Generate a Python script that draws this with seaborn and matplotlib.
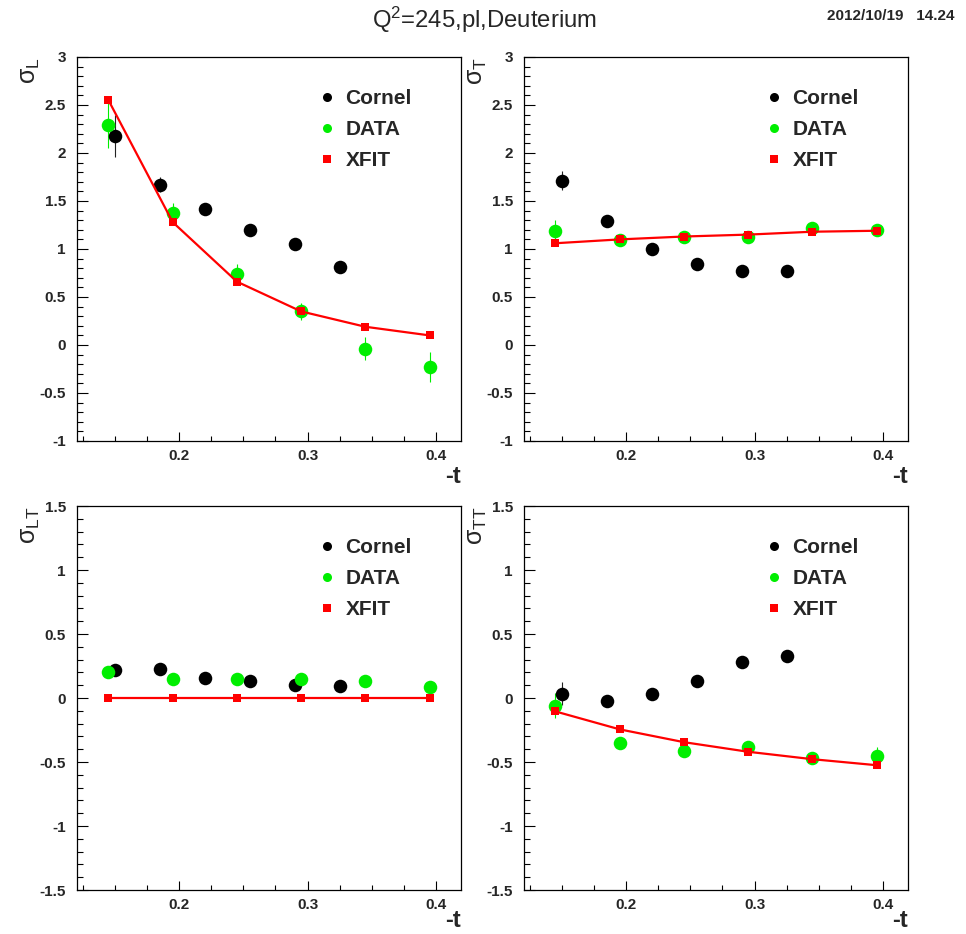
import numpy as np
import pandas as pd
import matplotlib
matplotlib.use("Agg")
import matplotlib.pyplot as plt
import seaborn as sns
from matplotlib.ticker import MultipleLocator, FuncFormatter
from matplotlib.lines import Line2D

# ---------------- data ----------------
cornel_t = [0.15, 0.185, 0.22, 0.255, 0.29, 0.325]
data_t = [0.145, 0.195, 0.245, 0.295, 0.345, 0.395]

cornel_L = [2.18, 1.67, 1.42, 1.20, 1.05, 0.81]
cornel_L_err = [0.22, 0.08, 0.04, 0.04, 0.04, 0.04]
data_L = [2.29, 1.38, 0.74, 0.35, -0.04, -0.23]
data_L_err = [0.24, 0.10, 0.10, 0.09, 0.12, 0.16]
xfit_L = [2.55, 1.28, 0.66, 0.35, 0.19, 0.10]

cornel_T = [1.71, 1.29, 1.00, 0.84, 0.77, 0.77]
cornel_T_err = [0.10, 0.05, 0.03, 0.03, 0.03, 0.03]
data_T = [1.19, 1.09, 1.12, 1.13, 1.22, 1.20]
data_T_err = [0.11, 0.04, 0.04, 0.04, 0.04, 0.04]
xfit_T = [1.06, 1.10, 1.13, 1.15, 1.18, 1.19]

cornel_LT = [0.22, 0.23, 0.155, 0.13, 0.105, 0.095]
cornel_LT_err = [0.03, 0.03, 0.03, 0.03, 0.03, 0.03]
data_LT = [0.20, 0.15, 0.15, 0.145, 0.135, 0.085]
data_LT_err = [0.03, 0.03, 0.03, 0.03, 0.03, 0.03]
xfit_LT = [0.0, 0.0, 0.0, 0.0, 0.0, 0.0]

cornel_TT = [0.035, -0.02, 0.035, 0.13, 0.285, 0.325]
cornel_TT_err = [0.09, 0.04, 0.03, 0.03, 0.03, 0.03]
data_TT = [-0.06, -0.35, -0.415, -0.38, -0.47, -0.455]
data_TT_err = [0.10, 0.04, 0.04, 0.04, 0.04, 0.07]
xfit_TT = [-0.105, -0.245, -0.345, -0.42, -0.478, -0.525]

series_labels = ["Cornel", "DATA", "XFIT"]
title_text = r"Q$^{\mathregular{2}}$=245,pl,Deuterium"
date_text = "2012/10/19   14.24"

panels = [
    dict(name=r"σ$_{\mathregular{L}}$", c=cornel_L, ce=cornel_L_err, d=data_L, de=data_L_err, f=xfit_L, ylim=(-1, 3)),
    dict(name=r"σ$_{\mathregular{T}}$", c=cornel_T, ce=cornel_T_err, d=data_T, de=data_T_err, f=xfit_T, ylim=(-1, 3)),
    dict(name=r"σ$_{\mathregular{LT}}$", c=cornel_LT, ce=cornel_LT_err, d=data_LT, de=data_LT_err, f=xfit_LT, ylim=(-1.5, 1.5)),
    dict(name=r"σ$_{\mathregular{TT}}$", c=cornel_TT, ce=cornel_TT_err, d=data_TT, de=data_TT_err, f=xfit_TT, ylim=(-1.5, 1.5)),
]

# ---------------- style ----------------
sns.set_theme(style="white")
plt.rcParams["font.family"] = ["Liberation Sans", "DejaVu Sans"]
plt.rcParams["mathtext.fontset"] = "custom"
plt.rcParams["mathtext.rm"] = "Liberation Sans"
plt.rcParams["mathtext.default"] = "regular"

GREEN = "#00ee00"
W, H = 966, 934
fig = plt.figure(figsize=(W / 100, H / 100), dpi=100)
fig.patch.set_facecolor("white")

boxes = [(77, 57), (524, 57), (77, 506), (524, 506)]
tlabel_y = [-0.092, -0.092, -0.08, -0.08]
size_px = 384

for (x0, y0), ty, p in zip(boxes, tlabel_y, panels):
    ax = fig.add_axes([x0 / W, 1 - (y0 + size_px) / H, size_px / W, size_px / H])
    ax.errorbar(cornel_t, p["c"], yerr=p["ce"], fmt="none", ecolor="#222222",
                elinewidth=0.8, capsize=0, zorder=2)
    ax.errorbar(data_t, p["d"], yerr=p["de"], fmt="none", ecolor=GREEN,
                elinewidth=0.8, capsize=0, zorder=3)
    sns.scatterplot(x=cornel_t, y=p["c"], ax=ax, color="black", s=95,
                    linewidth=0, marker="o", zorder=4, legend=False)
    sns.scatterplot(x=data_t, y=p["d"], ax=ax, color=GREEN, s=95,
                    linewidth=0, marker="o", zorder=5, legend=False)
    sns.lineplot(x=data_t, y=p["f"], ax=ax, color="red", linewidth=1.6,
                 marker="s", markersize=6, markeredgewidth=0, zorder=6,
                 legend=False, estimator=None)

    ax.set_xlim(0.1205, 0.4195)
    ax.set_ylim(*p["ylim"])
    ax.xaxis.set_major_locator(MultipleLocator(0.1))
    ax.xaxis.set_minor_locator(MultipleLocator(0.025))
    ax.yaxis.set_major_locator(MultipleLocator(0.5))
    ax.yaxis.set_minor_locator(MultipleLocator(0.1))
    ax.yaxis.set_major_formatter(FuncFormatter(lambda v, _: "%g" % round(v, 3)))
    ax.xaxis.set_major_formatter(FuncFormatter(lambda v, _: "%g" % round(v, 3)))
    ax.tick_params(axis="x", which="major", direction="in", length=6.5, width=0.8,
                   color="black", labelsize=11, pad=6, top=False, bottom=True)
    ax.tick_params(axis="x", which="minor", direction="in", length=3.5, width=0.8,
                   color="black", top=False, bottom=True)
    ax.tick_params(axis="y", which="major", direction="in", length=8, width=0.8,
                   color="black", labelsize=11, pad=8, left=True, right=False)
    ax.tick_params(axis="y", which="minor", direction="in", length=4, width=0.8,
                   color="black", left=True, right=False)
    for lab in ax.get_xticklabels() + ax.get_yticklabels():
        lab.set_fontweight("bold")
    for sp in ax.spines.values():
        sp.set_color("black")
        sp.set_linewidth(0.9)
    ax.set_xlabel("")
    ax.set_ylabel("")
    ax.text(-0.122, 1.0, p["name"], rotation=90, ha="center", va="top",
            fontsize=18, fontweight="normal", transform=ax.transAxes)
    ax.text(1.0, ty, "-t", ha="right", va="center", fontsize=17,
            fontweight="bold", transform=ax.transAxes)

    handles = [
        Line2D([], [], marker="o", color="black", linestyle="none", markersize=6.5, markeredgewidth=0),
        Line2D([], [], marker="o", color=GREEN, linestyle="none", markersize=6.5, markeredgewidth=0),
        Line2D([], [], marker="s", color="red", linestyle="none", markersize=6, markeredgewidth=0),
    ]
    ax.legend(handles, series_labels, loc="upper left",
              bbox_to_anchor=(0.629, 0.917), frameon=False,
              borderaxespad=0, borderpad=0, handlelength=0.8,
              handletextpad=0.5, labelspacing=0.58,
              prop={"size": 15, "weight": "bold"})

fig.text(0.501, 0.979, title_text, ha="center", va="center", fontsize=17.2,
         fontweight="normal")
fig.text(0.9886, 0.983, date_text, ha="right", va="center", fontsize=11,
         fontweight="bold")

fig.savefig("out.png", dpi=100, facecolor="white")
